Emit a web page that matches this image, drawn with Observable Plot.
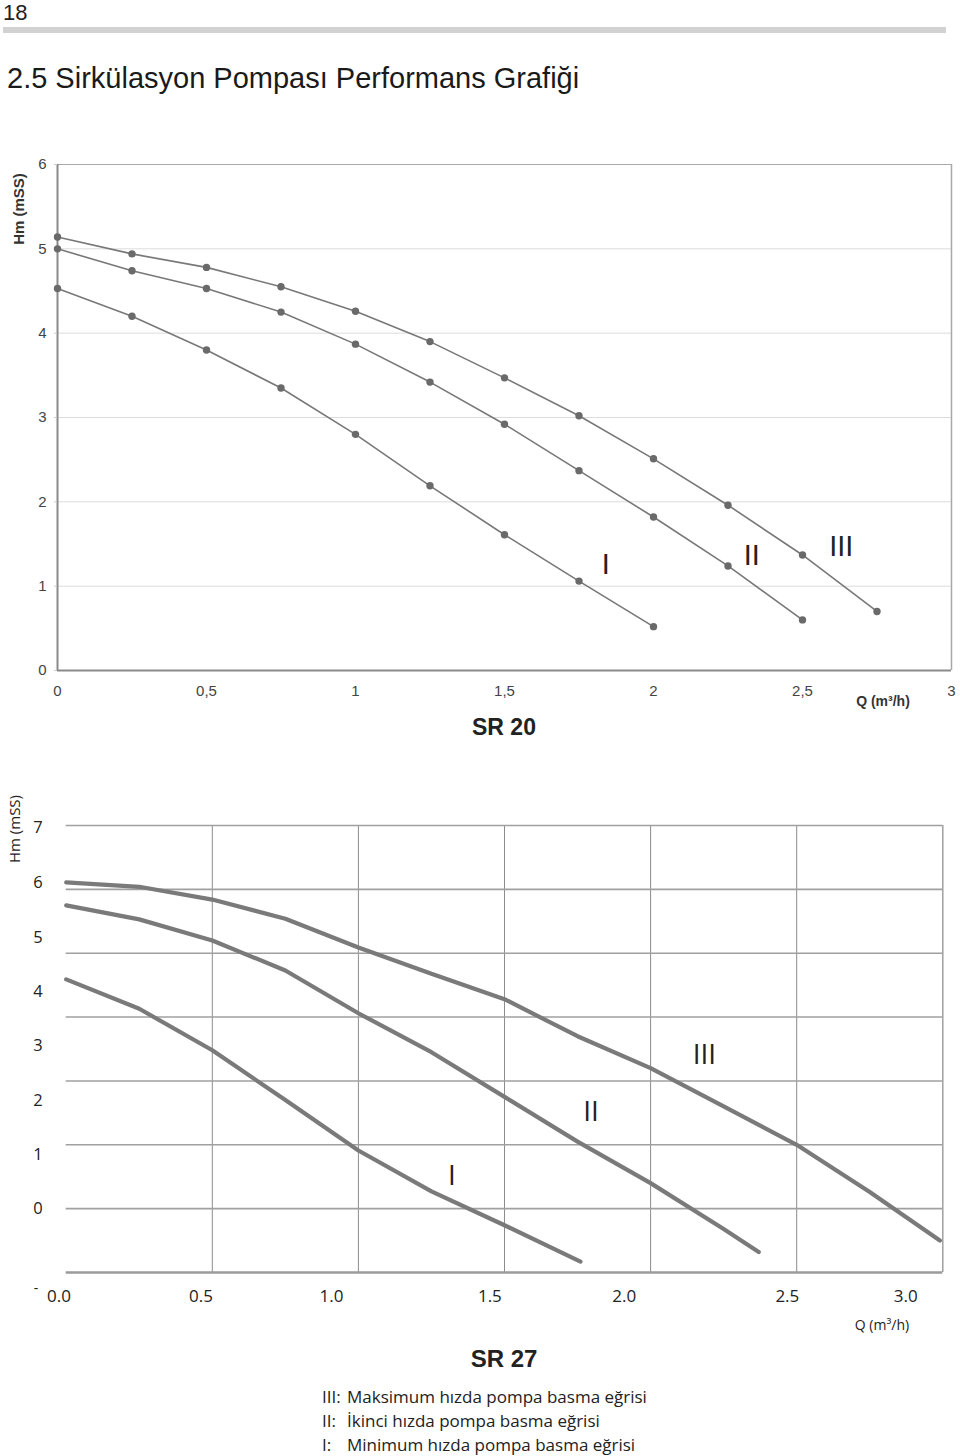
<!DOCTYPE html>
<html>
<head>
<meta charset="utf-8">
<script src="https://cdn.jsdelivr.net/npm/d3@7"></script>
<script src="https://cdn.jsdelivr.net/npm/@observablehq/plot@0.6"></script>
<style>
  html, body { margin: 0; padding: 0; background: #fff; }
  #page { position: relative; width: 960px; height: 1456px; overflow: hidden; font-family: "Liberation Sans", Arial, sans-serif; color: #222; }
  .abs { position: absolute; white-space: nowrap; line-height: 1; }
  .c { transform: translate(-50%, -50%); }
  .rot { transform: translate(-50%, -50%) rotate(-90deg); }
  svg { position: absolute; left: 0; overflow: visible; }
</style>
</head>
<body>
<div id="page">
  <div class="abs" style="left:3px; top:2px; font-size:22px; color:#222;">18</div>
  <div class="abs" style="left:3px; top:27px; width:943px; height:6px; background:#d2d2d2;"></div>
  <div class="abs" style="left:7px; top:64px; font-size:29px; color:#1a1a1a;">2.5 Sirkülasyon Pompası Performans Grafiği</div>

  <div class="abs rot" style="left:18px; top:209px; font-size:15px; font-weight:bold; color:#333;">Hm (mSS)</div>
  <div class="abs c" style="left:883px; top:701px; font-size:14px; font-weight:bold; color:#333;">Q (m³/h)</div>
  <div class="abs c" style="left:504px; top:727px; font-size:23px; font-weight:bold; color:#222;">SR 20</div>

  <div class="abs rot" style="left:14px; top:829px; font-size:15px; font-family:'Open Sans',sans-serif; color:#222;">Hm (mSS)</div>
  <div class="abs c" style="left:36px; top:1288px; font-size:14px; font-family:'Open Sans',sans-serif; color:#222;">-</div>
  <div class="abs c" style="left:882px; top:1325px; font-size:14px; font-family:'Open Sans',sans-serif; color:#222;">Q (m³/h)</div>
  <div class="abs c" style="left:504px; top:1359px; font-size:24px; font-weight:bold; color:#222;">SR 27</div>
  <div id="legend" class="abs" style="left:322px; top:1384px; font-size:17px; font-family:'Open Sans',sans-serif; color:#222;"></div>
</div>

<script>
// ---------- SR 20 data ----------
const curveNames = ["III", "II", "I"];
const sr20Q = [0, 0.25, 0.5, 0.75, 1, 1.25, 1.5, 1.75, 2, 2.25, 2.5, 2.75];
const sr20H_III = [5.14, 4.94, 4.78, 4.55, 4.26, 3.90, 3.47, 3.02, 2.51, 1.96, 1.37, 0.70];
const sr20H_II  = [5.00, 4.74, 4.53, 4.25, 3.87, 3.42, 2.92, 2.37, 1.82, 1.24, 0.60];
const sr20H_I   = [4.53, 4.20, 3.80, 3.35, 2.80, 2.19, 1.61, 1.06, 0.52];
const sr20XTicks = [0, 0.5, 1, 1.5, 2, 2.5, 3];
const sr20XLabels = ["0", "0,5", "1", "1,5", "2", "2,5", "3"];
const sr20YTicks = [0, 1, 2, 3, 4, 5, 6];
const sr20LabelQ = [2.63, 2.33, 1.84];
const sr20LabelH = [1.47, 1.36, 1.25];

// ---------- SR 27 data ----------
const sr27Q_III = [0, 0.25, 0.5, 0.75, 1, 1.25, 1.5, 1.75, 2, 2.25, 2.5, 2.75, 2.99];
const sr27H_III = [6.11, 6.04, 5.84, 5.54, 5.09, 4.68, 4.28, 3.70, 3.20, 2.60, 2.00, 1.26, 0.50];
const sr27Q_II  = [0, 0.25, 0.5, 0.75, 1, 1.25, 1.5, 1.75, 2, 2.25, 2.37];
const sr27H_II  = [5.75, 5.53, 5.20, 4.73, 4.06, 3.45, 2.75, 2.05, 1.40, 0.68, 0.32];
const sr27Q_I   = [0, 0.25, 0.5, 0.75, 1, 1.25, 1.5, 1.76];
const sr27H_I   = [4.59, 4.13, 3.48, 2.70, 1.91, 1.27, 0.74, 0.17];
const sr27GridX = [0, 0.5, 1, 1.5, 2, 2.5, 3];
const sr27GridY = [0, 1, 2, 3, 4, 5, 6, 7];
// printed tick labels and where they sit (in data units) in the source figure
const sr27XLabels = ["0.0", "0.5", "1.0", "1.5", "2.0", "2.5", "3.0"];
const sr27XLabelAt = [-0.025, 0.461, 0.908, 1.450, 1.910, 2.468, 2.873];
const sr27YLabels = ["0", "1", "2", "3", "4", "5", "6", "7"];
const sr27YLabelAt = [1.00, 1.85, 2.69, 3.55, 4.40, 5.25, 6.11, 6.97];
const sr27LabelQ = [2.184, 1.796, 1.32];
const sr27LabelH = [3.41, 2.51, 1.51];

// ---------- legend ----------
const legendKeys = ["III:", "II:", "I:"];
const legendTexts = ["Maksimum hızda pompa basma eğrisi", "İkinci hızda pompa basma eğrisi", "Minimum hızda pompa basma eğrisi"];

function rows(qs, hs, name) {
  return hs.map((h, i) => ({q: qs[i], h, curve: name}));
}

const sr20Data = [
  ...rows(sr20Q, sr20H_III, curveNames[0]),
  ...rows(sr20Q, sr20H_II, curveNames[1]),
  ...rows(sr20Q, sr20H_I, curveNames[2])
];
const sr20Labels = curveNames.map((n, i) => ({q: sr20LabelQ[i], h: sr20LabelH[i], text: n}));

const sr27Data = [
  ...rows(sr27Q_III, sr27H_III, curveNames[0]),
  ...rows(sr27Q_II, sr27H_II, curveNames[1]),
  ...rows(sr27Q_I, sr27H_I, curveNames[2])
];
const sr27Labels = curveNames.map((n, i) => ({q: sr27LabelQ[i], h: sr27LabelH[i], text: n}));
const sr27XLab = sr27XLabels.map((t, i) => ({q: sr27XLabelAt[i], text: t}));
const sr27YLab = sr27YLabels.map((t, i) => ({h: sr27YLabelAt[i], text: t}));

const page = document.getElementById("page");

// ---------- SR 20 chart ----------
const yMax20 = sr20YTicks[sr20YTicks.length - 1];
const xMax20 = sr20XTicks[sr20XTicks.length - 1];
const sr20 = Plot.plot({
  width: 960,
  height: 560,
  marginTop: 14,
  marginBottom: 40,
  marginLeft: 57,
  marginRight: 9,
  style: {fontFamily: "'Liberation Sans', Arial, sans-serif", fontSize: "15px", color: "#444", background: "transparent", overflow: "visible"},
  x: {domain: [sr20XTicks[0], xMax20], label: null},
  y: {domain: [sr20YTicks[0], yMax20], label: null},
  marks: [
    Plot.ruleY(sr20YTicks.slice(1, -1), {stroke: "#dcdcdc", strokeWidth: 1}),
    Plot.ruleY([yMax20], {stroke: "#a8a8a8", strokeWidth: 1.2}),
    Plot.ruleX([xMax20], {stroke: "#a8a8a8", strokeWidth: 1.5}),
    Plot.ruleX([sr20XTicks[0]], {stroke: "#8a8a8a", strokeWidth: 2}),
    Plot.ruleY([sr20YTicks[0]], {stroke: "#8a8a8a", strokeWidth: 2}),
    Plot.axisX({ticks: sr20XTicks, tickFormat: d => sr20XLabels[sr20XTicks.indexOf(d)], tickSize: 0, tickPadding: 15, fill: "#444", fontSize: 15, label: null}),
    Plot.axisY({ticks: sr20YTicks, tickFormat: d => String(d), tickSize: 3, tickPadding: 8, stroke: "#ccc", fill: "#444", fontSize: 15, label: null}),
    Plot.line(sr20Data, {x: "q", y: "h", z: "curve", stroke: "#787878", strokeWidth: 1.6}),
    Plot.dot(sr20Data, {x: "q", y: "h", r: 3.7, fill: "#6a6a6a", stroke: "none"}),
    Plot.text(sr20Labels, {x: "q", y: "h", text: "text", fontSize: 29, fill: "#222", fontFamily: "'Liberation Sans', Arial, sans-serif"})
  ]
});
sr20.style.top = "150px";
page.appendChild(sr20);

// ---------- SR 27 chart ----------
const yMax27 = sr27GridY[sr27GridY.length - 1];
const xMax27 = sr27GridX[sr27GridX.length - 1];
const sr27 = Plot.plot({
  width: 960,
  height: 540,
  marginTop: 25,
  marginBottom: 68,
  marginLeft: 65.7,
  marginRight: 17.7,
  style: {fontFamily: "'Open Sans', sans-serif", fontSize: "16px", color: "#222", background: "transparent", overflow: "visible"},
  x: {domain: [sr27GridX[0], xMax27], axis: null},
  y: {domain: [sr27GridY[0], yMax27], axis: null},
  marks: [
    Plot.ruleX(sr27GridX.slice(1, -1), {stroke: "#8c8c8c", strokeWidth: 1}),
    Plot.ruleX([xMax27], {stroke: "#a0a0a0", strokeWidth: 1.5}),
    Plot.ruleY(sr27GridY.slice(1), {stroke: "#a0a0a0", strokeWidth: 1.6}),
    Plot.ruleY([sr27GridY[0]], {stroke: "#9a9a9a", strokeWidth: 2.5}),
    Plot.line(sr27Data, {x: "q", y: "h", z: "curve", stroke: "#7a7a7a", strokeWidth: 4.2, strokeLinejoin: "miter"}),
    Plot.text(sr27XLab, {x: "q", text: "text", frameAnchor: "bottom", dy: 29, fontSize: 17, fill: "#222"}),
    Plot.text(sr27YLab, {y: "h", text: "text", frameAnchor: "left", dx: -33, fontSize: 16.5, fill: "#222"}),
    Plot.text(sr27Labels, {x: "q", y: "h", text: "text", fontSize: 28, fill: "#222"})
  ]
});
sr27.style.top = "800px";
page.appendChild(sr27);

// ---------- legend ----------
const legend = document.getElementById("legend");
legendKeys.forEach((k, i) => {
  const row = document.createElement("div");
  row.style.cssText = "display:flex; height:24px; align-items:center;";
  const a = document.createElement("span");
  a.style.cssText = "display:inline-block; width:25px;";
  a.textContent = k;
  const b = document.createElement("span");
  b.textContent = legendTexts[i];
  row.appendChild(a); row.appendChild(b);
  legend.appendChild(row);
});
</script>
</body>
</html>
